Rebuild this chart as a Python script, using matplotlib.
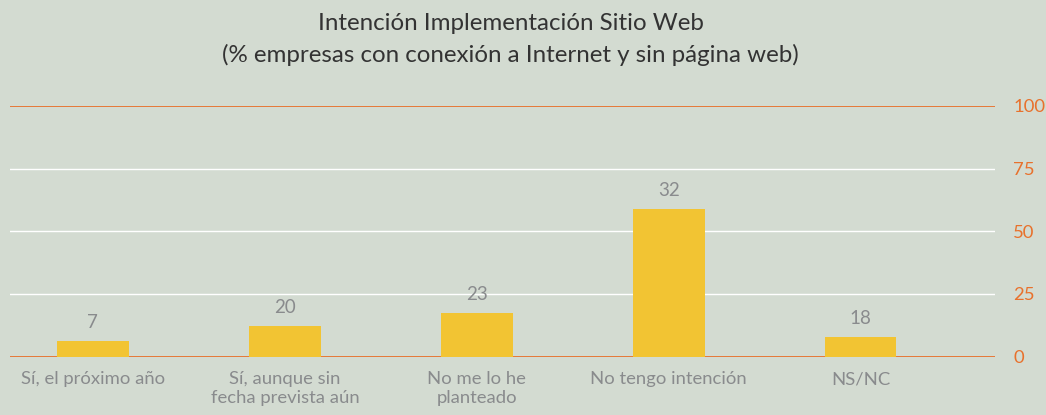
import matplotlib.pyplot as plt
import numpy as np

plt.rcParams['font.family'] = ['Lato', 'DejaVu Sans']

# data (bar heights as drawn, value labels as printed)
categorias = ['Sí, el próximo año', 'Sí, aunque sin\nfecha prevista aún', 'No me lo he\nplanteado',
              'No tengo intención', 'NS/NC']
alturas = [6.3, 12.3, 17.5, 58.9, 7.8]
etiquetas = ['7', '20', '23', '32', '18']
ticks_y = [0, 25, 50, 75, 100]

fondo = '#d3dbd1'
naranja = '#e8712c'
amarillo = '#f2c433'
gris = '#898b8d'

fig = plt.figure(figsize=(10.46, 4.15), dpi=100, facecolor=fondo)
ax = fig.add_axes([10/1046, 1 - 356.5/415, 985/1046, 250.5/415])
ax.set_facecolor(fondo)

x = np.arange(len(categorias))
ax.bar(x, alturas, width=0.373, color=amarillo, zorder=3)

for xi, h, t in zip(x, alturas, etiquetas):
    ax.text(xi, h + 4.0, t, ha='center', va='bottom', fontsize=13.5, color=gris)

for v in ticks_y:
    if v in (0, 100):
        ax.axhline(v, color=naranja, lw=1.3, zorder=2)
    else:
        ax.axhline(v, color='white', lw=1.0, zorder=2)

ax.set_xlim(-0.432, 4.70)
ax.set_ylim(0, 100)
ax.set_xticks(x)
ax.set_xticklabels(categorias, fontsize=13.3, color=gris, linespacing=1.2)
ax.yaxis.tick_right()
ax.set_yticks(ticks_y)
ax.set_yticklabels([str(v) for v in ticks_y], fontsize=13.3, color=naranja)
ax.tick_params(axis='both', length=0)
ax.tick_params(axis='y', pad=13)
ax.tick_params(axis='x', pad=10.5)
for s in ax.spines.values():
    s.set_visible(False)

fig.text(0.488, 1 - 24/415, 'Intención Implementación Sitio Web', ha='center', va='center',
         fontsize=17.4, color='#333333')
fig.text(0.488, 1 - 55/415, '(% empresas con conexión a Internet y sin página web)', ha='center',
         va='center', fontsize=17.4, color='#333333')

fig.savefig('out.png', dpi=100, facecolor=fondo)
